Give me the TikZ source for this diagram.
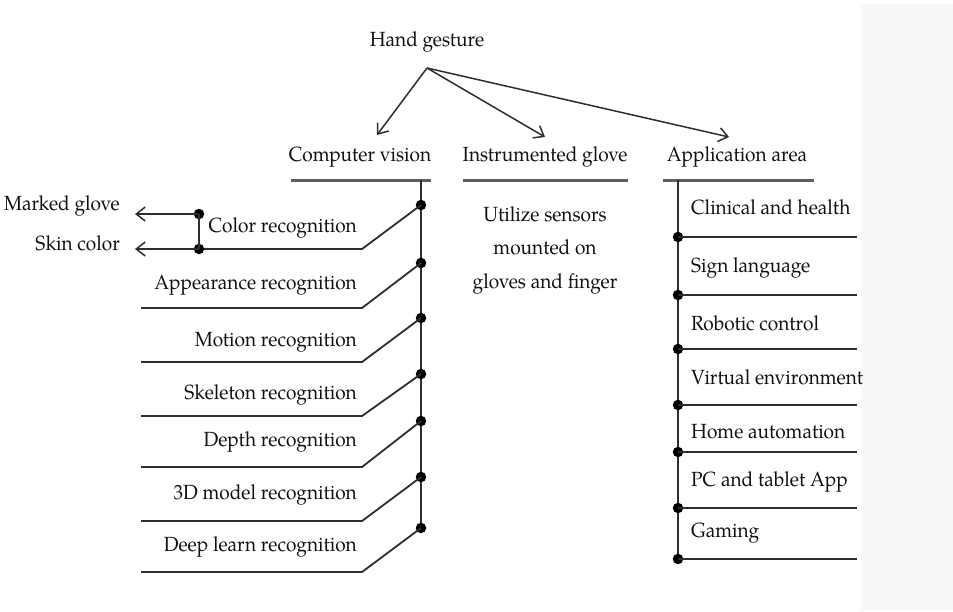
\documentclass[tikz,border=0pt]{standalone}
\usepackage{fontspec}
\setmainfont[FakeStretch=0.93]{TeX Gyre Pagella}
\usetikzlibrary{arrows.meta}
\definecolor{ink}{HTML}{111111}
\definecolor{rulec}{HTML}{2E2E2E}
\definecolor{headrule}{HTML}{5E5E5E}
\definecolor{panel}{HTML}{F8F8F8}
\begin{document}
\begin{tikzpicture}[x=1pt,y=-1pt,
  lbl/.style={font=\fontsize{20.5}{24}\selectfont, text=ink, inner sep=0pt},
  itemline/.style={draw=rulec, line width=1.8pt},
  headline/.style={draw=headrule, line width=3pt},
  arr/.style={draw=rulec, line width=1.5pt, -{Straight Barb[length=9pt,width=14pt]}},
  dot/.style={circle, fill=black, inner sep=0pt, minimum size=10.5pt}]
\useasboundingbox (0,0) rectangle (953,611);
\fill[panel] (861,4) rectangle (953,611);

% root and the three branches
\node[lbl] (hg) at (427,42) {Hand gesture};
\coordinate (hgo) at (427,68);
\node[lbl] (cv) at (360,157) {Computer vision};
\node[lbl] (ig) at (545,157) {Instrumented glove};
\node[lbl] (aa) at (737,157) {Application area};
\coordinate (cvtip) at (377,135);
\coordinate (igtip) at (545,137);
\coordinate (aatip) at (729,137);
\draw[arr] (hgo) -- (cvtip);
\draw[arr] (hgo) -- (igtip);
\draw[arr] (hgo) -- (aatip);

% heading underlines
\coordinate (cvL) at (291,180); \coordinate (cvR) at (431,180);
\coordinate (igL) at (463,180); \coordinate (igR) at (628,180);
\coordinate (aaL) at (663,180); \coordinate (aaR) at (814,180);
\draw[headline] (cvL) -- (cvR);
\draw[headline] (igL) -- (igR);
\draw[headline] (aaL) -- (aaR);

% instrumented glove description
\node[lbl, align=center, font=\fontsize{20.5}{33.5}\selectfont] (igtxt) at (545,250)
  {Utilize sensors\\mounted on\\gloves and finger};

% computer vision branch
\coordinate (cvtop) at (421,180);
\coordinate (cvbot) at (421,528);
\draw[itemline] (cvtop) -- (cvbot);
\foreach \i/\d/\l/\t/\s in {
  1/205/249/228/Color recognition,
  2/263/308/285/Appearance recognition,
  3/318/362/342/Motion recognition,
  4/374/416/395/Skeleton recognition,
  5/421/467/442/Depth recognition,
  6/477/521/495/3D model recognition,
  7/528/572/547/Deep learn recognition}{
  \node[dot] (cd\i) at (421,\d) {};
  \coordinate (cc\i) at (362,\l);
  \coordinate (cs\i) at (141,\l);
  \node[lbl, anchor=east] (ct\i) at (357,\t) {\s};
  \draw[itemline] (cd\i.center) -- (cc\i) -- (cs\i);
}

% colour recognition splits into two cues
\node[dot] (mk) at (199,214) {};
\node[dot] (sk) at (199,249) {};
\draw[itemline] (mk.center) -- (sk.center);
\node[lbl, anchor=east] (mkt) at (120,206) {Marked glove};
\node[lbl, anchor=east] (skt) at (120,243) {Skin color};
\coordinate (mka) at (135,214);
\coordinate (ska) at (135,249);
\draw[arr] (mk.center) -- (mka);
\draw[arr] (sk.center) -- (ska);

% application area branch
\coordinate (aatop) at (678,180);
\coordinate (aabot) at (678,559);
\draw[itemline] (aatop) -- (aabot);
\foreach \i/\d/\t/\s in {
  1/237/207/Clinical and health,
  2/295/268/Sign language,
  3/349/323/Robotic control,
  4/405/377/Virtual environment,
  5/452/432/Home automation,
  6/508/482/PC and tablet App,
  7/559/533/Gaming}{
  \node[dot] (ad\i) at (678,\d) {};
  \coordinate (ae\i) at (857,\d);
  \node[lbl, anchor=west] (at\i) at (691,\t) {\s};
  \draw[itemline] (ad\i.center) -- (ae\i);
}
\end{tikzpicture}
\end{document}
